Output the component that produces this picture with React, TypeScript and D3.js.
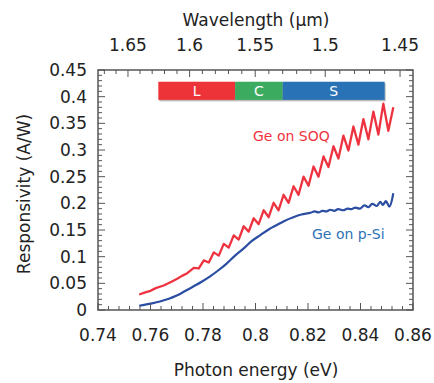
import { useEffect, useRef } from "react"
import * as d3 from "d3"

// Ge on SOQ (photon energy eV, responsivity A/W)
const soqEnergy = [
  0.7557, 0.758, 0.76, 0.762, 0.765, 0.768, 0.77, 0.772, 0.774, 0.7765, 0.7784, 0.7803, 0.7822, 0.7841, 0.786,
  0.7879, 0.7898, 0.7917, 0.7936, 0.7955, 0.7974, 0.7993, 0.8012, 0.8031, 0.805, 0.8069, 0.8088, 0.8107, 0.8126,
  0.8145, 0.8164, 0.8183, 0.8202, 0.8221, 0.824, 0.8259, 0.8278, 0.8297, 0.8316, 0.8335, 0.8354, 0.8373, 0.8392,
  0.8411, 0.843, 0.8449, 0.8468, 0.8487, 0.8506, 0.8525,
]
const soqResp = [
  0.029, 0.033, 0.036, 0.041, 0.046, 0.053, 0.058, 0.064, 0.069, 0.079, 0.078, 0.093, 0.089, 0.108, 0.102, 0.124,
  0.117, 0.14, 0.132, 0.157, 0.147, 0.172, 0.161, 0.187, 0.174, 0.201, 0.187, 0.216, 0.201, 0.232, 0.216, 0.25,
  0.233, 0.269, 0.25, 0.288, 0.268, 0.307, 0.284, 0.327, 0.299, 0.344, 0.31, 0.358, 0.32, 0.372, 0.329, 0.387,
  0.336, 0.38,
]

// Ge on p-Si
const psiEnergy = [
  0.7557, 0.758, 0.76, 0.7636, 0.767, 0.77, 0.773, 0.7763, 0.7795, 0.7827, 0.786, 0.789, 0.792, 0.7954, 0.7985,
  0.8017, 0.805, 0.808, 0.811, 0.8144, 0.8175, 0.8208, 0.8225, 0.824, 0.8255, 0.8271, 0.8285, 0.83, 0.8315, 0.8334,
  0.835, 0.8365, 0.838, 0.8398, 0.8415, 0.843, 0.8445, 0.8462, 0.8475, 0.8485, 0.8497, 0.851, 0.8525,
]
const psiResp = [
  0.008, 0.01, 0.012, 0.016, 0.021, 0.027, 0.035, 0.044, 0.053, 0.063, 0.075, 0.087, 0.101, 0.115, 0.129, 0.14,
  0.151, 0.159, 0.167, 0.174, 0.179, 0.182, 0.185, 0.183, 0.186, 0.185, 0.188, 0.186, 0.189, 0.187, 0.19, 0.189,
  0.192, 0.19, 0.196, 0.193, 0.199, 0.195, 0.203, 0.197, 0.204, 0.194, 0.219,
]

const bandNames = ["L", "C", "S"]
const bandFrom = [1.625, 1.565, 1.53] // µm
const bandTo = [1.565, 1.53, 1.46]
const bandColors = ["#ee3338", "#3bab5f", "#2a72b6"]

const energyTicks = [0.74, 0.76, 0.78, 0.8, 0.82, 0.84, 0.86]
const respTicks = [0, 0.05, 0.1, 0.15, 0.2, 0.25, 0.3, 0.35, 0.4, 0.45]
const waveTicks = [1.65, 1.6, 1.55, 1.5, 1.45]

const HC = 1.23984

export default function App() {
  const svgRef = useRef<SVGSVGElement>(null)

  useEffect(() => {
    if (!svgRef.current) return
    const svg = d3.select(svgRef.current)
    svg.selectAll("*").remove()

    const left = 98, right = 413, top = 70, bottom = 310
    const font = "DejaVu Sans, Verdana, sans-serif"
    const axisCol = "#555"

    const x = d3.scaleLinear().domain([0.74, 0.86]).range([left, right])
    const y = d3.scaleLinear().domain([0, 0.45]).range([bottom, top])
    const xw = (w: number) => x(HC / w)

    const g = svg.append("g")

    // bands (light shadow underneath)
    g.append("rect")
      .attr("x", xw(bandFrom[0]) + 1).attr("y", y(0.428) + 1.5)
      .attr("width", xw(bandTo[2]) - xw(bandFrom[0])).attr("height", y(0.394) - y(0.428))
      .attr("fill", "#bbb")
    bandNames.forEach((n, i) => {
      const x0 = xw(bandFrom[i]), x1 = xw(bandTo[i])
      g.append("rect")
        .attr("x", x0).attr("y", y(0.428))
        .attr("width", x1 - x0).attr("height", y(0.394) - y(0.428))
        .attr("fill", bandColors[i])
      g.append("text")
        .attr("x", (x0 + x1) / 2).attr("y", y(0.411) + 5)
        .attr("text-anchor", "middle")
        .attr("fill", "#fff")
        .style("font-family", font).style("font-size", "14px")
        .text(n)
    })

    // curves
    const line = d3.line<[number, number]>()
      .x((d) => x(d[0])).y((d) => y(d[1]))

    g.append("path")
      .datum(soqEnergy.map((e, i) => [e, soqResp[i]] as [number, number]))
      .attr("d", line.curve(d3.curveLinear)).attr("fill", "none")
      .attr("stroke", "#ee3340").attr("stroke-width", 2.3)
      .attr("stroke-linejoin", "round")

    g.append("path")
      .datum(psiEnergy.map((e, i) => [e, psiResp[i]] as [number, number]))
      .attr("d", line.curve(d3.curveCatmullRom.alpha(0.5))).attr("fill", "none")
      .attr("stroke", "#2b4ea3").attr("stroke-width", 2.2)

    g.append("text").attr("x", 253).attr("y", 141)
      .attr("fill", "#ee3340").style("font-family", font).style("font-size", "14px")
      .text("Ge on SOQ")
    g.append("text").attr("x", 312).attr("y", 239)
      .attr("fill", "#2e72b6").style("font-family", font).style("font-size", "14px")
      .text("Ge on p-Si")

    // frame
    g.append("rect")
      .attr("x", left).attr("y", top).attr("width", right - left).attr("height", bottom - top)
      .attr("fill", "none").attr("stroke", axisCol).attr("stroke-width", 1.5)

    const tick = (x1: number, y1: number, x2: number, y2: number) =>
      g.append("line").attr("x1", x1).attr("y1", y1).attr("x2", x2).attr("y2", y2)
        .attr("stroke", axisCol).attr("stroke-width", 1)

    // bottom ticks
    d3.range(0.74, 0.8601, 0.004).forEach((v) => {
      const major = Math.abs(Math.round(v / 0.02) * 0.02 - v) < 1e-6
      tick(x(v), bottom, x(v), bottom - (major ? 7 : 4))
    })
    // top ticks (wavelength)
    d3.range(1.45, 1.6801, 0.01).forEach((w) => {
      const e = HC / w
      if (e < 0.74 || e > 0.86) return
      const major = Math.abs(Math.round(w / 0.05) * 0.05 - w) < 1e-6
      tick(xw(w), top, xw(w), top + (major ? 7 : 4))
    })
    // left/right ticks
    d3.range(0, 0.4501, 0.01).forEach((v) => {
      const major = Math.abs(Math.round(v / 0.05) * 0.05 - v) < 1e-6
      const len = major ? 7 : 4
      tick(left, y(v), left + len, y(v))
      tick(right, y(v), right - len, y(v))
    })

    // tick labels
    energyTicks.forEach((v) => {
      g.append("text").attr("x", x(v)).attr("y", 341)
        .attr("text-anchor", "middle").attr("fill", "#222")
        .style("font-family", font).style("font-size", "17px")
        .text(d3.format("~g")(v))
    })
    respTicks.forEach((v) => {
      g.append("text").attr("x", 87).attr("y", y(v) + 6)
        .attr("text-anchor", "end").attr("fill", "#222")
        .style("font-family", font).style("font-size", "17px")
        .text(d3.format("~g")(v))
    })
    waveTicks.forEach((w) => {
      g.append("text").attr("x", xw(w)).attr("y", 51)
        .attr("text-anchor", "middle").attr("fill", "#222")
        .style("font-family", font).style("font-size", "17px")
        .text(d3.format("~g")(w))
    })

    // axis titles
    g.append("text").attr("x", 256).attr("y", 376)
      .attr("text-anchor", "middle").attr("fill", "#222")
      .style("font-family", font).style("font-size", "17px")
      .text("Photon energy (eV)")
    g.append("text").attr("x", 256).attr("y", 26)
      .attr("text-anchor", "middle").attr("fill", "#222")
      .style("font-family", font).style("font-size", "17px")
      .text("Wavelength (µm)")
    g.append("text")
      .attr("transform", "translate(30,194) rotate(-90)")
      .attr("text-anchor", "middle").attr("fill", "#222")
      .style("font-family", font).style("font-size", "17px")
      .text("Responsivity (A/W)")
  }, [])

  return (
    <svg
      ref={svgRef}
      width={434}
      height={383}
      style={{ position: "absolute", left: 0, top: 0, background: "#fff" }}
    />
  )
}
